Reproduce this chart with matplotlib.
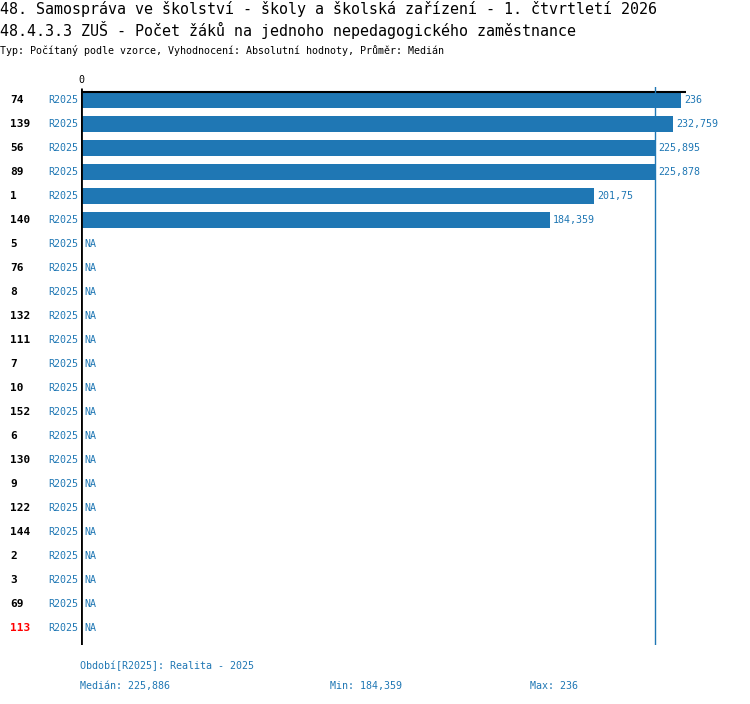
import numpy as np
import matplotlib
matplotlib.use('Agg')
import matplotlib.pyplot as plt

plt.rcParams['font.family'] = ['DejaVu Sans Mono']

title1 = '48. Samospráva ve školství - školy a školská zařízení - 1. čtvrtletí 2026'
title2 = '48.4.3.3 ZUŠ - Počet žáků na jednoho nepedagogického zaměstnance'
subtitle = 'Typ: Počítaný podle vzorce, Vyhodnocení: Absolutní hodnoty, Průměr: Medián'

codes = ['74', '139', '56', '89', '1', '140', '5', '76', '8', '132', '111', '7',
         '10', '152', '6', '130', '9', '122', '144', '2', '3', '69', '113']
values = [236, 232.759, 225.895, 225.878, 201.75, 184.359] + [np.nan] * 17
period = 'R2025'
highlight = '113'

median = 225.886
vmin = 184.359
vmax = 236

blue = '#1f77b4'
W, H = 750, 704

fig = plt.figure(figsize=(W / 100, H / 100), dpi=100)

# axes placed in pixel terms: 0 at x=81, 236 at x=681
ax_left, ax_right = 81, 686
ax_top, ax_bot = 87, 645
ax = fig.add_axes([ax_left / W, 1 - ax_bot / H, (ax_right - ax_left) / W, (ax_bot - ax_top) / H])

px_per_unit = 600 / 236.0
xmax = (ax_right - ax_left) / px_per_unit
row_h = 24.0
ylim_top = (ax_top - 100) / row_h
ylim_bot = (ax_bot - 100) / row_h

n = len(codes)
y = np.arange(n)
vals = np.array(values, dtype=float)
ax.barh(y, np.nan_to_num(vals), height=16 / row_h, color=blue, align='center')
ax.set_xlim(0, xmax)
ax.set_ylim(ylim_bot, ylim_top)
ax.axis('off')

# axis lines
ax.plot([0, 0], [ylim_top + 0.05, ylim_bot], color='k', lw=2, solid_capstyle='butt')
ax.plot([0, xmax], [-8 / row_h, -8 / row_h], color='k', lw=1.5)
ax.axvline(median, color=blue, lw=1)
ax.text(0, ylim_top - 0.1, '0', ha='center', va='bottom', fontsize=7.2)

for i in range(n):
    v = vals[i]
    if np.isnan(v):
        lab = 'NA'
        xpos = 0
    else:
        lab = f'{v:g}'.replace('.', ',')
        xpos = v
    ax.text(xpos + 3 / px_per_unit, i, lab, ha='left', va='center', fontsize=7.2, color=blue)
    fig.text(78 / W, 1 - (100 + row_h * i) / H, period, ha='right', va='center',
             fontsize=7.2, color=blue)
    fig.text(10 / W, 1 - (100 + row_h * i) / H, codes[i], ha='left', va='center',
             fontsize=8, fontweight='bold', color='red' if codes[i] == highlight else 'k')

fig.text(0, 1 - 9 / H, title1, ha='left', va='center', fontsize=10.8)
fig.text(0, 1 - 30 / H, title2, ha='left', va='center', fontsize=10.8)
fig.text(0, 1 - 50 / H, subtitle, ha='left', va='center', fontsize=7.2)

fig.text(80 / W, 1 - 666 / H, 'Období[' + period + ']: Realita - 2025', ha='left', va='center',
         fontsize=7.2, color=blue)
fig.text(80 / W, 1 - 686 / H, 'Medián: ' + f'{median:g}'.replace('.', ','), ha='left', va='center',
         fontsize=7.2, color=blue)
fig.text(330 / W, 1 - 686 / H, 'Min: ' + f'{vmin:g}'.replace('.', ','), ha='left', va='center',
         fontsize=7.2, color=blue)
fig.text(530 / W, 1 - 686 / H, 'Max: ' + f'{vmax:g}'.replace('.', ','), ha='left', va='center',
         fontsize=7.2, color=blue)

plt.savefig('out.png', dpi=100)
